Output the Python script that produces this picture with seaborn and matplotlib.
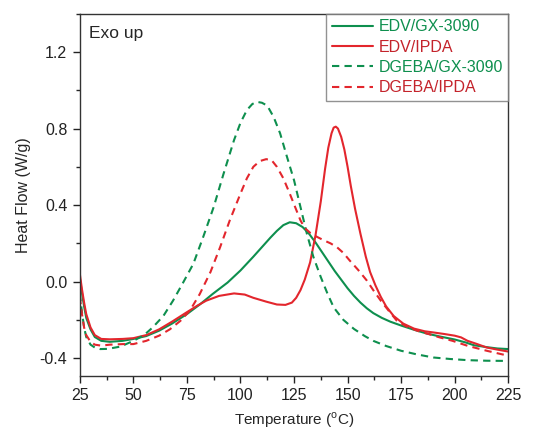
import pandas as pd
import matplotlib.pyplot as plt
import seaborn as sns
from matplotlib.ticker import MultipleLocator

# values
edv_gx_t = [25, 26, 27, 28, 30, 32, 35, 39, 45, 50, 56, 62, 68, 75, 81, 87, 94, 100, 106, 110, 114, 117, 120,
            123, 126, 129, 132, 135, 138, 141, 144, 147, 150, 153, 156, 159, 162, 166, 170, 175, 181, 187, 193,
            200, 205, 209, 215, 220, 225]
edv_gx_hf = [0.02, -0.06, -0.13, -0.19, -0.25, -0.29, -0.31, -0.315, -0.31, -0.30, -0.285, -0.257, -0.22, -0.17,
             -0.12, -0.065, -0.005, 0.058, 0.13, 0.18, 0.23, 0.265, 0.295, 0.31, 0.305, 0.285, 0.25, 0.205,
             0.155, 0.105, 0.055, 0.01, -0.035, -0.075, -0.11, -0.14, -0.165, -0.19, -0.21, -0.23, -0.252,
             -0.272, -0.287, -0.303, -0.318, -0.333, -0.343, -0.35, -0.353]

edv_ipda_t = [25, 26, 27, 28, 30, 32, 35, 39, 45, 50, 56, 62, 68, 75, 80, 84, 90, 97, 102, 106, 112, 117,
              121, 124, 126, 128, 130, 132.5, 135, 137.5, 139.5, 141, 142.5, 143.5, 144.5, 145.5, 147, 148.5,
              150, 151.5, 153.5, 156, 158.5, 160.5, 163, 165.5, 168, 171.5, 176, 181, 186, 190, 195, 200, 203,
              206, 210, 215, 220, 225]
edv_ipda_hf = [0.04, -0.04, -0.11, -0.17, -0.24, -0.28, -0.30, -0.302, -0.30, -0.296, -0.28, -0.25, -0.21,
               -0.16, -0.125, -0.10, -0.075, -0.062, -0.068, -0.085, -0.105, -0.12, -0.122, -0.11, -0.085,
               -0.045, 0.01, 0.1, 0.24, 0.42, 0.59, 0.70, 0.775, 0.805, 0.81, 0.80, 0.757, 0.69, 0.6, 0.5,
               0.38, 0.25, 0.13, 0.05, -0.02, -0.08, -0.13, -0.18, -0.22, -0.246, -0.26, -0.266, -0.274,
               -0.283, -0.292, -0.31, -0.325, -0.345, -0.356, -0.366]

dgeba_gx_t = [25, 26, 27, 28, 30, 32, 34.5, 38, 44, 50, 55, 59, 64, 68.5, 73, 78, 82.5, 87.5, 92, 97, 100,
              103, 105.5, 107.5, 110, 112.5, 115.5, 118.5, 121.5, 125, 128, 131, 134, 137.5, 140.5, 143.5, 148,
              153, 158, 162, 168, 175, 182, 190, 198, 206, 215, 225]
dgeba_gx_hf = [-0.065, -0.16, -0.24, -0.29, -0.33, -0.345, -0.353, -0.352, -0.34, -0.31, -0.28, -0.24, -0.18,
               -0.10, -0.01, 0.093, 0.23, 0.39, 0.56, 0.74, 0.83, 0.897, 0.928, 0.94, 0.935, 0.92, 0.86, 0.775,
               0.66, 0.53, 0.39, 0.25, 0.13, 0.023, -0.06, -0.135, -0.2, -0.248, -0.285, -0.31, -0.337,
               -0.362, -0.38, -0.397, -0.405, -0.411, -0.414, -0.415]

dgeba_ipda_t = [25, 26, 27, 28, 30, 32, 35, 39, 45, 50, 56, 62, 67, 72, 76.5, 81, 86, 90.5, 95, 100, 103,
                106, 109, 112, 114.5, 117, 120, 123, 125.5, 128, 130, 132.5, 135.5, 139, 142, 145, 148, 151,
                155, 159, 162, 165.5, 169, 173, 177.5, 182.5, 188, 193, 199, 206, 215, 225]
dgeba_ipda_hf = [-0.08, -0.17, -0.24, -0.28, -0.315, -0.33, -0.335, -0.33, -0.327, -0.327, -0.31, -0.283,
                 -0.25, -0.205, -0.15, -0.065, 0.05, 0.18, 0.32, 0.46, 0.54, 0.60, 0.63, 0.64, 0.635, 0.60,
                 0.54, 0.46, 0.39, 0.32, 0.28, 0.255, 0.235, 0.215, 0.2, 0.18, 0.15, 0.11, 0.06, 0.005, -0.045,
                 -0.10, -0.15, -0.205, -0.235, -0.257, -0.275, -0.292, -0.31, -0.336, -0.362, -0.388]

names = ["EDV/GX-3090", "EDV/IPDA", "DGEBA/GX-3090", "DGEBA/IPDA"]
green = "#0e8f4e"
red = "#e3262d"

sns.set_style("ticks")
plt.rcParams["font.family"] = ["Liberation Sans", "DejaVu Sans"]

fig = plt.figure(figsize=(5.43, 4.32), dpi=100)
ax = fig.add_axes([0.147, 0.130, 0.789, 0.838])

series = [
    (edv_gx_t, edv_gx_hf, green, "-"),
    (edv_ipda_t, edv_ipda_hf, red, "-"),
    (dgeba_gx_t, dgeba_gx_hf, green, (0, (3.5, 2.5))),
    (dgeba_ipda_t, dgeba_ipda_hf, red, (0, (3.5, 2.5))),
]
for name, (t, hf, col, ls) in zip(names, series):
    df = pd.DataFrame({"t": t, "hf": hf})
    sns.lineplot(data=df, x="t", y="hf", ax=ax, color=col, linestyle=ls, linewidth=1.5,
                 estimator=None, sort=False, label=name)

ax.set_xlim(25, 225)
ax.set_ylim(-0.493, 1.4)
ax.xaxis.set_major_locator(MultipleLocator(25))
ax.xaxis.set_minor_locator(MultipleLocator(12.5))
ax.yaxis.set_major_locator(MultipleLocator(0.4))
ax.yaxis.set_minor_locator(MultipleLocator(0.2))
ax.yaxis.set_major_formatter(plt.FuncFormatter(lambda v, p: f"{v:.1f}"))
ax.tick_params(which="major", direction="out", length=5, width=1, pad=4, labelsize=11.5, colors="#222222")
ax.tick_params(which="minor", direction="out", length=3, width=1)
for s in ax.spines.values():
    s.set_color("#333333")
    s.set_linewidth(1)

ax.set_xlabel("Temperature ($^{\\mathregular{o}}$C)", fontsize=11, labelpad=5)
ax.set_ylabel("Heat Flow (W/g)", fontsize=11.5, labelpad=6)
ax.text(0.022, 0.967, "Exo up", transform=ax.transAxes, fontsize=12.5, va="top", ha="left")

leg = ax.legend(loc="upper right", borderaxespad=0, fontsize=11.5, frameon=True, fancybox=False,
                handlelength=2.6, handletextpad=0.3, labelspacing=0.33, borderpad=0.35)
leg.get_frame().set_edgecolor("#777777")
leg.get_frame().set_linewidth(1)
for txt, col in zip(leg.get_texts(), [green, "#c4232b", green, "#c4232b"]):
    txt.set_color(col)

fig.savefig("out.png", dpi=100)
